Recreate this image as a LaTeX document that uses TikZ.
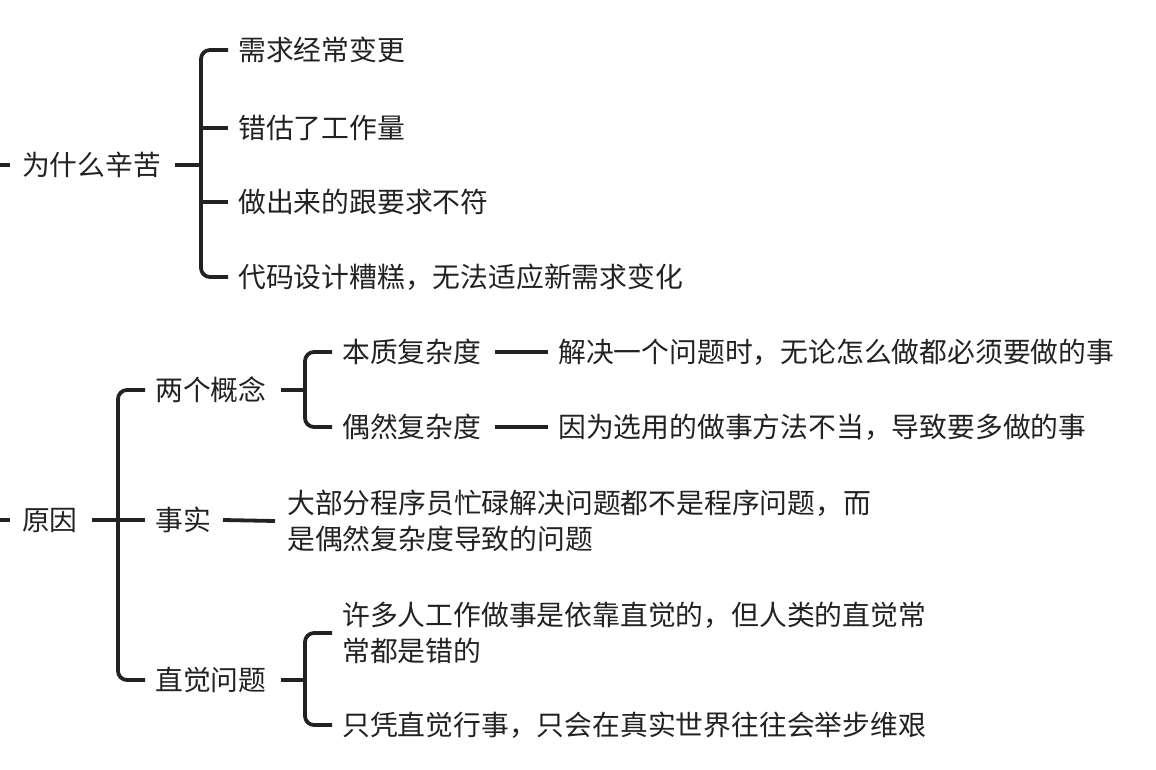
\documentclass[tikz,border=0pt]{standalone}
\usepackage{fontspec}
\setmainfont{Noto Sans CJK SC}
\definecolor{ink}{HTML}{222222}
\tikzset{
  t/.style={anchor=west,inner sep=0pt,text=ink,font=\fontsize{27.8}{36}\selectfont,align=left},
  ln/.style={draw=ink,line width=3.8pt},
  br/.style={draw=ink,line width=3.8pt,rounded corners=9pt}
}
\begin{document}
\begin{tikzpicture}[x=1pt,y=-1pt]
\useasboundingbox (0,0) rectangle (1156,770);
% branch 1
\coordinate (s1) at (0,165);
\node[t] (w) at (22,165) {为什么辛苦};
\draw[ln] (s1) -- ++(10,0);
\node[t] (a1) at (238,50) {需求经常变更};
\node[t] (a2) at (238,128) {错估了工作量};
\node[t] (a3) at (238,202) {做出来的跟要求不符};
\node[t] (a4) at (238,277) {代码设计糟糕，无法适应新需求变化};
\draw[br] ([xshift=-10pt]a1.west) -- (201,50) -- (201,277) -- ([xshift=-10pt]a4.west);
\draw[ln] ([xshift=-10pt]a2.west) -- (201,128);
\draw[ln] ([xshift=-10pt]a3.west) -- (201,202);
\draw[ln] ([xshift=14pt]w.east) -- (201,165);
% branch 2
\coordinate (s2) at (0,520);
\node[t] (y) at (22,520) {原因};
\draw[ln] (s2) -- ++(10,0);
\node[t] (b1) at (155,390) {两个概念};
\node[t] (b2) at (155,520) {事实};
\node[t] (b3) at (155,680) {直觉问题};
\draw[br] ([xshift=-10pt]b1.west) -- (118,390) -- (118,680) -- ([xshift=-10pt]b3.west);
\draw[ln] ([xshift=14pt]y.east) -- ([xshift=-10pt]b2.west);
% two concepts
\node[t] (c1) at (342,352) {本质复杂度};
\node[t] (c2) at (342,427) {偶然复杂度};
\draw[br] ([xshift=-10pt]c1.west) -- (305,352) -- (305,427) -- ([xshift=-10pt]c2.west);
\draw[ln] ([xshift=14pt]b1.east) -- (305,390);
\node[t] (d1) at (558,352) {解决一个问题时，无论怎么做都必须要做的事};
\node[t] (d2) at (558,427) {因为选用的做事方法不当，导致要多做的事};
\draw[ln] ([xshift=14pt]c1.east) -- ([xshift=-10pt]d1.west);
\draw[ln] ([xshift=14pt]c2.east) -- ([xshift=-10pt]d2.west);
% fact
\node[t] (e1) at (287,521) {大部分程序员忙碌解决问题都不是程序问题，而\\是偶然复杂度导致的问题};
\draw[ln] ([xshift=12pt]b2.east) -- ([xshift=-12pt]e1.west);
% intuition
\node[t] (f1) at (342,633) {许多人工作做事是依靠直觉的，但人类的直觉常\\常都是错的};
\node[t] (f2) at (342,725) {只凭直觉行事，只会在真实世界往往会举步维艰};
\draw[br] ([xshift=-10pt]f1.west) -- (305,633) -- (305,725) -- ([xshift=-10pt]f2.west);
\draw[ln] ([xshift=14pt]b3.east) -- (305,680);
\end{tikzpicture}
\end{document}
